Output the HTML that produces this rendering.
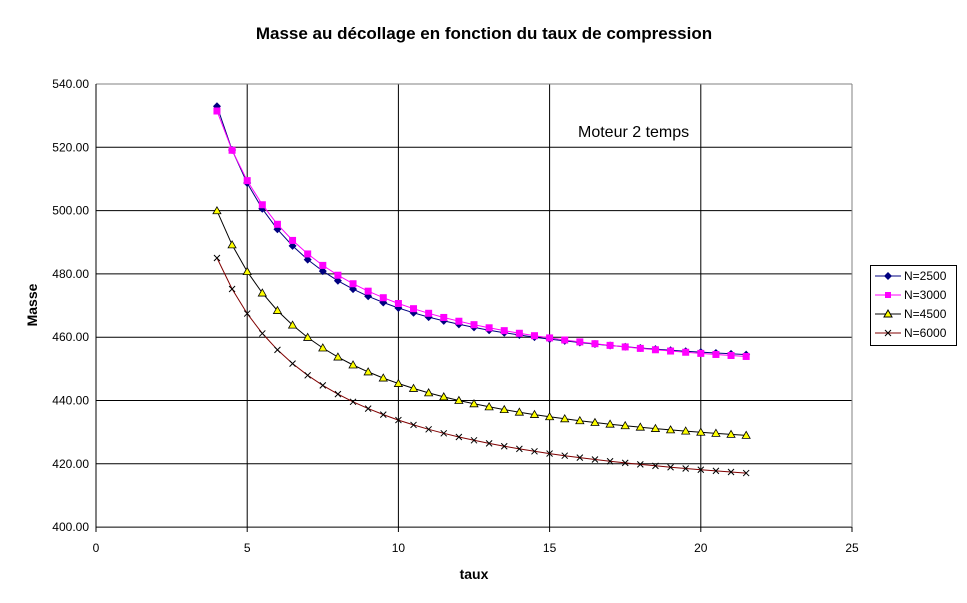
<!DOCTYPE html><html><head><meta charset="utf-8"><style>body{margin:0;background:#fff}svg{display:block;font-family:"Liberation Sans",Arial,sans-serif}</style></head><body>
<svg id="s" width="967" height="603" xmlns="http://www.w3.org/2000/svg">
<rect width="967" height="603" fill="#fff"/>
<text x="484" y="39" font-size="17" font-weight="bold" text-anchor="middle">Masse au décollage en fonction du taux de compression</text>
<g id="grid"></g>
<text x="578" y="137" font-size="16">Moteur 2 temps</text>
<text x="37" y="305" font-size="14" font-weight="bold" text-anchor="middle" transform="rotate(-90 37 305)">Masse</text>
<text x="474" y="579" font-size="14" font-weight="bold" text-anchor="middle">taux</text>
<g id="data"></g>
<rect x="870.5" y="265.5" width="86" height="80" fill="#fff" stroke="#000"/>
<g font-size="12">
<line x1="875" y1="276" x2="901" y2="276" stroke="#000080"/><path d="M888 272 L892 276 L888 280 L884 276Z" fill="#000080"/><text x="904" y="280">N=2500</text>
<line x1="875" y1="295" x2="901" y2="295" stroke="#ff00ff"/><rect x="885" y="292" width="6" height="6" fill="#ff00ff"/><text x="904" y="299">N=3000</text>
<line x1="875" y1="314" x2="901" y2="314" stroke="#000"/><path d="M888 310 L892 317 L884 317Z" fill="#ffff00" stroke="#000"/><text x="904" y="318">N=4500</text>
<line x1="875" y1="333" x2="901" y2="333" stroke="#800000"/><path d="M885 330 L891 336 M891 330 L885 336" stroke="#000"/><text x="904" y="337">N=6000</text>
</g>
</svg>
<script>
var NS="http://www.w3.org/2000/svg";
function X(v){return 96+v*30.24}function Y(v){return 84+(540-v)*3.165}
var g=document.getElementById("grid"),h="";
for(var i=0;i<=7;i++){var v=400+i*20,y=Y(v);h+='<line x1="96" x2="852" y1="'+y+'" y2="'+y+'" stroke="#000"/>';h+='<text x="89" y="'+(y+4)+'" font-size="12" text-anchor="end">'+v.toFixed(2)+'</text>';}
for(var i=0;i<=5;i++){var x=X(i*5);h+='<line x1="'+x+'" x2="'+x+'" y1="84" y2="527" stroke="#000"/>';h+='<text x="'+x+'" y="552" font-size="12" text-anchor="middle">'+(i*5)+'</text>';h+='<line x1="'+x+'" x2="'+x+'" y1="527" y2="532" stroke="#000"/>';}
h+='<line x1="96" x2="852" y1="84" y2="84" stroke="#808080"/><line x1="852" x2="852" y1="84" y2="527" stroke="#808080"/><line x1="96" x2="96" y1="84" y2="527" stroke="#000"/>';
g.innerHTML=h;
var S=[[447.65,682.6,1.5,"#000080","d"],[444.1,529.7,1.3,"#ff00ff","s"],[418.1,432,1.2,"#000","t"],[404.4,370.4,1.1,"#800000","x"]];
var d="";
S.forEach(function(s){var pts=[],m="";for(var x=4;x<=21.51;x+=0.5){var px=X(x),py=Y(s[0]+s[1]/Math.pow(x,s[2]));pts.push(px.toFixed(1)+","+py.toFixed(1));
if(s[4]=="d")m+='<path d="M'+px+' '+(py-4)+' L'+(px+4)+' '+py+' L'+px+' '+(py+4)+' L'+(px-4)+' '+py+'Z" fill="#000080"/>';
else if(s[4]=="s")m+='<rect x="'+(px-3.5)+'" y="'+(py-3.5)+'" width="7" height="7" fill="#ff00ff"/>';
else if(s[4]=="t")m+='<path d="M'+px+' '+(py-4)+' L'+(px+4)+' '+(py+3)+' L'+(px-4)+' '+(py+3)+'Z" fill="#ffff00" stroke="#000" stroke-width="0.8"/>';
else m+='<path d="M'+(px-3)+' '+(py-3)+' L'+(px+3)+' '+(py+3)+' M'+(px+3)+' '+(py-3)+' L'+(px-3)+' '+(py+3)+'" stroke="#000"/>';}
d+='<polyline points="'+pts.join(" ")+'" fill="none" stroke="'+s[3]+'" stroke-width="1"/>'+m;});
document.getElementById("data").innerHTML=d;
</script>
</body></html>
